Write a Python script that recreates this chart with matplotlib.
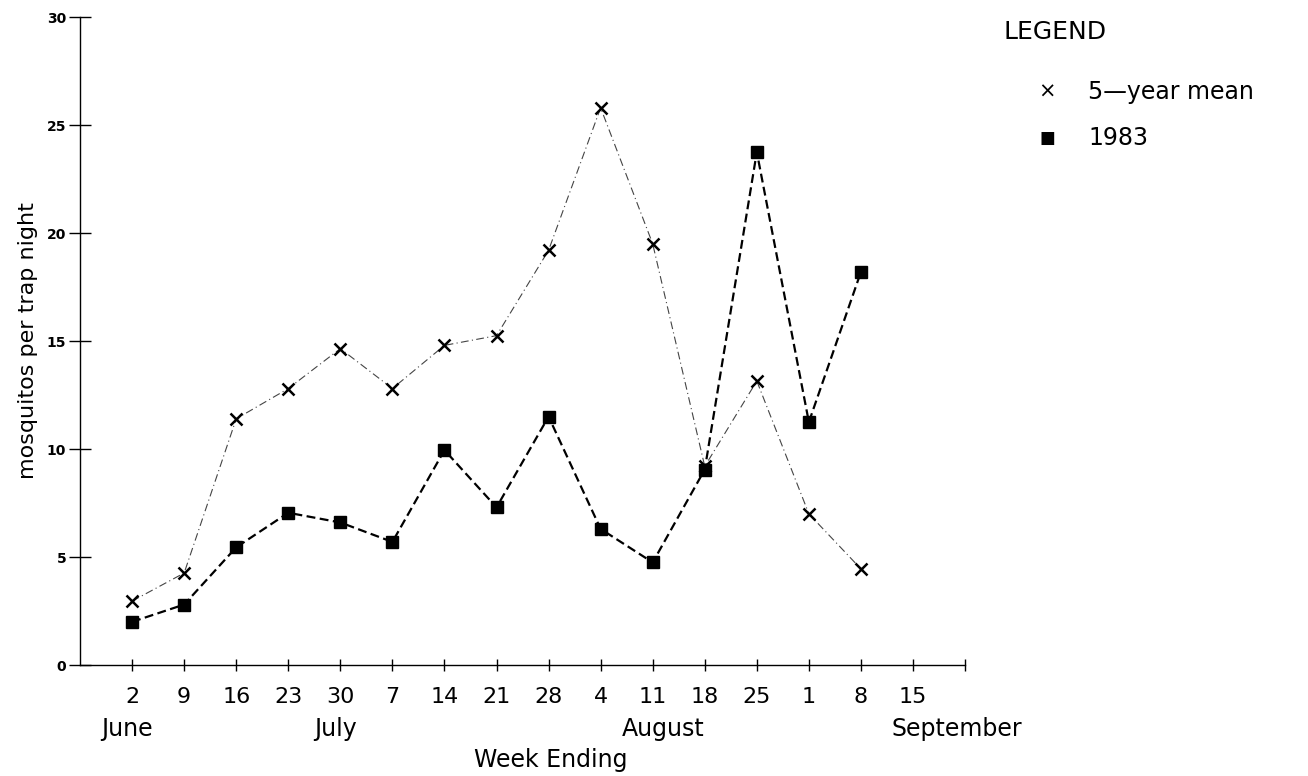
import matplotlib.pyplot as plt
from matplotlib.transforms import blended_transform_factory

# week-ending dates (June 2 .. September 15)
week_labels = ['2', '9', '16', '23', '30', '7', '14', '21', '28',
               '4', '11', '18', '25', '1', '8', '15']
week_pos = list(range(1, len(week_labels) + 1))

# mosquitos per trap night
mean5_pos = week_pos[:15]
mean5 = [2.96, 4.26, 11.4, 12.8, 14.65, 12.8, 14.8, 15.25, 19.2,
         25.8, 19.5, 9.2, 13.15, 7.0, 4.45]
y1983_pos = week_pos[:15]
y1983 = [2.0, 2.8, 5.45, 7.05, 6.6, 5.7, 9.95, 7.3, 11.5,
         6.3, 4.75, 9.05, 23.75, 11.25, 18.2]

months = ['June', 'July', 'August', 'September']
month_pos = [0.9, 4.9, 11.2, 16.85]

yticks = [0, 5, 10, 15, 20, 25, 30]

plt.rcParams['font.family'] = ['DejaVu Sans']

fig = plt.figure(figsize=(13.08, 7.76), dpi=100)
ax = fig.add_axes([0.0612, 0.143, 0.6766, 0.835])

ax.plot(mean5_pos, mean5, color='#444444', lw=0.8, dashes=(7, 3, 1, 3),
        marker='x', ms=9, mew=1.8, mec='black')
ax.plot(y1983_pos, y1983, color='black', lw=1.6, dashes=(4, 2),
        marker='s', ms=9, mfc='black', mec='black')

ax.set_xlim(0, 17)
ax.set_ylim(0, 30)
for s in ['top', 'right']:
    ax.spines[s].set_visible(False)
for s in ['left', 'bottom']:
    ax.spines[s].set_linewidth(1.0)

ax.set_xticks(week_pos + [17])
ax.set_xticklabels(week_labels + [''], fontsize=16)
ax.set_yticks(yticks)
ax.set_yticklabels([str(v) for v in yticks], fontsize=10, fontweight='bold')
ax.tick_params(axis='x', direction='inout', length=9, width=1.0, pad=11)
ax.tick_params(axis='y', direction='inout', length=16, width=1.0, pad=2)

trans = blended_transform_factory(ax.transData, ax.transAxes)
for m, p in zip(months, month_pos):
    ax.text(p, -0.098, m, transform=trans, ha='center', va='center', fontsize=17)
ax.text(0.532, -0.147, 'Week Ending', transform=ax.transAxes, ha='center',
        va='center', fontsize=17)

ax.set_ylabel('mosquitos per trap night', fontsize=16, labelpad=6)

# legend drawn as text block
fig.text(1003 / 1308, 1 - 32 / 776, 'LEGEND', fontsize=18, ha='left', va='center')
fig.text(1047 / 1308, 1 - 92 / 776, '\u00d7', fontsize=15, ha='center', va='center')
fig.text(1088 / 1308, 1 - 92 / 776, '5\u2014year mean', fontsize=17, ha='left', va='center')
fig.text(1047 / 1308, 1 - 138 / 776, '\u25a0', fontsize=12, ha='center', va='center')
fig.text(1088 / 1308, 1 - 138 / 776, '1983', fontsize=17, ha='left', va='center')

fig.savefig('out.png', dpi=100)
